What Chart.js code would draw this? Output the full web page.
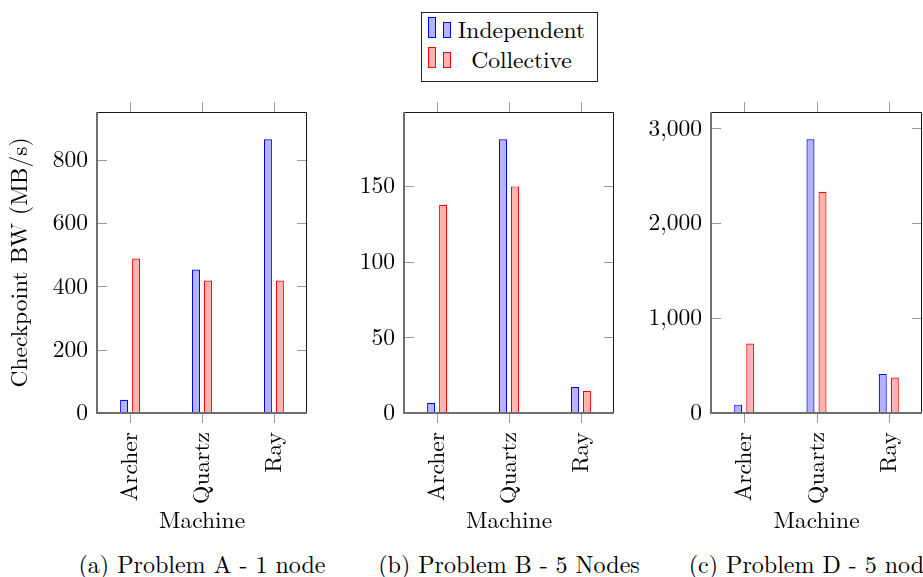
<!DOCTYPE html>
<html>
<head>
<meta charset="utf-8">
<title>Checkpoint bandwidth by machine</title>
<script src="https://cdn.jsdelivr.net/npm/chart.js@4.4.1/dist/chart.umd.min.js"></script>
<style>
  html, body { margin: 0; padding: 0; background: #fff; }
  #page { position: relative; width: 923px; height: 577px; overflow: hidden;
          font-family: 'Latin Modern Roman'; color: #000; }
  .panel { position: absolute; top: 0; }
  .caption { position: absolute; top: 551px; font-size: 24px; line-height: 25px;
             white-space: nowrap; text-align: center; font-family: 'Latin Modern Roman'; }
  #legend { position: absolute; left: 421px; top: 12px; width: 175px; height: 68px;
            border: 1px solid #222; background: #fff; }
  .sw { position: absolute; box-sizing: border-box; border: 1px solid; }
  .lt { position: absolute; left: 34px; width: 131px; text-align: center;
        font-size: 23.5px; line-height: 25px; white-space: nowrap; font-family: 'Latin Modern Roman'; }
</style>
</head>
<body>
<div id="page">
  <canvas id="cA" class="panel"></canvas>
  <canvas id="cB" class="panel"></canvas>
  <canvas id="cD" class="panel"></canvas>

  <div id="legend">
    <span class="sw" id="swI1"></span><span class="sw" id="swI2"></span>
    <span class="lt" style="top:3px">Independent</span>
    <span class="sw" id="swC1"></span><span class="sw" id="swC2"></span>
    <span class="lt" style="top:33px">Collective</span>
  </div>

  <div class="caption" id="capA"></div>
  <div class="caption" id="capB"></div>
  <div class="caption" id="capD"></div>
</div>

<script>
// Machines on the category axis
const machines = ['Archer', 'Quartz', 'Ray'];

// Checkpoint bandwidth (MB/s), Problem A - 1 node
const independentA = [42, 453, 864];
const collectiveA  = [488, 418, 418];
const yTicksA = [0, 200, 400, 600, 800];

// Problem B - 5 Nodes
const independentB = [6.8, 180.9, 17.2];
const collectiveB  = [137.6, 149.8, 14.6];
const yTicksB = [0, 50, 100, 150];

// Problem D - 5 nodes
const independentD = [88, 2884, 412];
const collectiveD  = [732, 2332, 373];
const yTicksD = [0, 1000, 2000, 3000];

const seriesNames = ['Independent', 'Collective'];
const captions = ['(a) Problem A - 1 node', '(b) Problem B - 5 Nodes', '(c) Problem D - 5 nodes'];

const FONT = { family: 'Latin Modern Roman', size: 23.5 };
const BLUE = { fill: '#b3b3ff', line: '#0000ff' };
const RED  = { fill: '#ffb3b3', line: '#ff0000' };

// legend swatches
function swatch(id, left, top, h, c) {
  const s = document.getElementById(id).style;
  s.left = left + 'px'; s.top = top + 'px'; s.width = '8px'; s.height = h + 'px';
  s.background = c.fill; s.borderColor = c.line;
}
swatch('swI1', 6, 4, 21, BLUE);  swatch('swI2', 21, 9, 16, BLUE);
swatch('swC1', 6, 34, 21, RED);  swatch('swC2', 21, 39, 16, RED);

// box, axis lines and pgfplots-style tick marks
const framePlugin = {
  id: 'frame',
  afterDatasetsDraw(chart) {
    const { ctx, chartArea: a, scales: { x, y } } = chart;
    const L = a.left, R = a.right, T = a.top, B = a.bottom;
    ctx.save();
    ctx.lineWidth = 1;
    ctx.strokeStyle = '#9a9a9a';
    ctx.beginPath();
    x.ticks.forEach(t => {
      const px = Math.round(x.getPixelForValue(t.value)) + 0.5;
      ctx.moveTo(px, T - 10); ctx.lineTo(px, T);
      ctx.moveTo(px, B); ctx.lineTo(px, B + 10);
    });
    y.ticks.forEach(t => {
      const py = Math.round(y.getPixelForValue(t.value)) + 0.5;
      ctx.moveTo(L, py); ctx.lineTo(L + 10, py);
      ctx.moveTo(R - 10, py); ctx.lineTo(R, py);
    });
    ctx.stroke();
    ctx.strokeStyle = '#1a1a1a';
    ctx.beginPath();
    ctx.moveTo(L, T + 0.5); ctx.lineTo(R - 0.5, T + 0.5); ctx.lineTo(R - 0.5, B);
    ctx.stroke();
    ctx.strokeStyle = '#6e6e6e';
    ctx.lineWidth = 2;
    ctx.beginPath();
    ctx.moveTo(L, T); ctx.lineTo(L, B); ctx.lineTo(R, B);
    ctx.stroke();
    ctx.restore();
  }
};

const panels = [
  { id: 'cA', cap: 'capA', plotLeft: 97,  plotWidth: 210, ind: independentA, col: collectiveA, yt: yTicksA, yTitle: true },
  { id: 'cB', cap: 'capB', plotLeft: 404, plotWidth: 210, ind: independentB, col: collectiveB, yt: yTicksB, yTitle: false },
  { id: 'cD', cap: 'capD', plotLeft: 711, plotWidth: 211, ind: independentD, col: collectiveD, yt: yTicksD, yTitle: false }
];

const AXIS_W = 97, PLOT_TOP = 112, PLOT_BOTTOM = 413, CANVAS_H = 545;

panels.forEach((p, k) => {
  const canvas = document.getElementById(p.id);
  const w = Math.min(AXIS_W + p.plotWidth + 3, 923 - (p.plotLeft - AXIS_W));
  canvas.width = w; canvas.height = CANVAS_H;
  canvas.style.left = (p.plotLeft - AXIS_W) + 'px';
  canvas.style.width = w + 'px'; canvas.style.height = CANVAS_H + 'px';

  const cap = document.getElementById(p.cap);
  cap.textContent = captions[k];
  cap.style.left = (p.plotLeft + p.plotWidth / 2 - 200) + 'px';
  cap.style.width = '400px';

  const yMax = Math.max(...p.ind, ...p.col) * 1.1;

  new Chart(canvas, {
    type: 'bar',
    data: {
      datasets: [
        { label: seriesNames[0], data: p.ind.map((v, i) => ({ x: i, y: v })),
          backgroundColor: BLUE.fill, borderColor: BLUE.line, borderWidth: 1.2, borderSkipped: false },
        { label: seriesNames[1], data: p.col.map((v, i) => ({ x: i, y: v })),
          backgroundColor: RED.fill, borderColor: RED.line, borderWidth: 1.2, borderSkipped: false }
      ]
    },
    options: {
      responsive: false,
      animation: false,
      devicePixelRatio: 1,
      layout: { padding: { left: 0, top: PLOT_TOP, bottom: 0, right: w - AXIS_W - p.plotWidth } },
      categoryPercentage: 1 / 3,
      barPercentage: 2 / 3,
      plugins: { legend: { display: false }, tooltip: { enabled: false } },
      scales: {
        x: {
          type: 'linear', min: -0.46, max: 2.46, bounds: 'data', offset: false,
          grid: { display: false, drawTicks: false, offset: false }, border: { display: false },
          afterBuildTicks: s => { s.ticks = machines.map((_, i) => ({ value: i })); },
          afterFit: s => { s.height = CANVAS_H - PLOT_BOTTOM; s.paddingLeft = 0; s.paddingRight = 0; },
          ticks: { autoSkip: false, minRotation: 90, maxRotation: 90, padding: 19,
                   font: FONT, color: '#000', callback: v => machines[v] },
          title: { display: true, text: 'Machine', font: FONT, color: '#000',
                   padding: { top: 0, bottom: 10 } }
        },
        y: {
          min: 0, max: yMax,
          grid: { display: false, drawTicks: false }, border: { display: false },
          afterBuildTicks: s => { s.ticks = p.yt.map(v => ({ value: v })); },
          afterFit: s => { s.width = AXIS_W; s.paddingTop = 0; s.paddingBottom = 0; },
          ticks: { padding: 9, font: FONT, color: '#000',
                   callback: v => Number(v).toLocaleString('en-US') },
          title: { display: p.yTitle, text: 'Checkpoint BW (MB/s)', font: FONT, color: '#000',
                   padding: { top: 6, bottom: 0 } }
        }
      }
    },
    plugins: [framePlugin]
  });
});
</script>
</body>
</html>
